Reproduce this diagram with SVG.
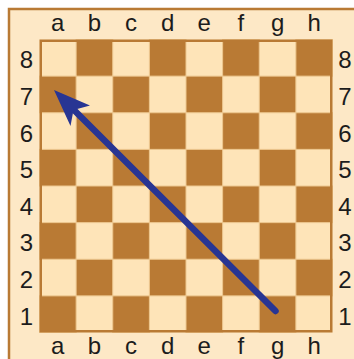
<svg xmlns="http://www.w3.org/2000/svg" width="354" height="359" viewBox="0 0 354 359">
<style>
.lbl{font-family:"Liberation Sans",Arial,sans-serif;font-size:24px;fill:#1c1c1c;text-anchor:middle}
.d{fill:#B97A34;stroke:#EDC890;stroke-width:1}
</style>
<rect x="0" y="0" width="354" height="359" fill="#ffffff"/>
<g id="frame">
<rect x="9" y="9" width="360" height="360" fill="#FDE8C6" stroke="#B97A34" stroke-width="2.5"/>
</g>
<g id="board">
<rect x="39.5" y="39.5" width="293" height="293" fill="#FEE4B8"/>
<g id="dark-squares">
<rect class="d" x="76.125" y="39.5" width="36.625" height="36.625"/>
<rect class="d" x="149.375" y="39.5" width="36.625" height="36.625"/>
<rect class="d" x="222.625" y="39.5" width="36.625" height="36.625"/>
<rect class="d" x="295.875" y="39.5" width="36.625" height="36.625"/>
<rect class="d" x="39.5" y="76.125" width="36.625" height="36.625"/>
<rect class="d" x="112.75" y="76.125" width="36.625" height="36.625"/>
<rect class="d" x="186" y="76.125" width="36.625" height="36.625"/>
<rect class="d" x="259.25" y="76.125" width="36.625" height="36.625"/>
<rect class="d" x="76.125" y="112.75" width="36.625" height="36.625"/>
<rect class="d" x="149.375" y="112.75" width="36.625" height="36.625"/>
<rect class="d" x="222.625" y="112.75" width="36.625" height="36.625"/>
<rect class="d" x="295.875" y="112.75" width="36.625" height="36.625"/>
<rect class="d" x="39.5" y="149.375" width="36.625" height="36.625"/>
<rect class="d" x="112.75" y="149.375" width="36.625" height="36.625"/>
<rect class="d" x="186" y="149.375" width="36.625" height="36.625"/>
<rect class="d" x="259.25" y="149.375" width="36.625" height="36.625"/>
<rect class="d" x="76.125" y="186" width="36.625" height="36.625"/>
<rect class="d" x="149.375" y="186" width="36.625" height="36.625"/>
<rect class="d" x="222.625" y="186" width="36.625" height="36.625"/>
<rect class="d" x="295.875" y="186" width="36.625" height="36.625"/>
<rect class="d" x="39.5" y="222.625" width="36.625" height="36.625"/>
<rect class="d" x="112.75" y="222.625" width="36.625" height="36.625"/>
<rect class="d" x="186" y="222.625" width="36.625" height="36.625"/>
<rect class="d" x="259.25" y="222.625" width="36.625" height="36.625"/>
<rect class="d" x="76.125" y="259.25" width="36.625" height="36.625"/>
<rect class="d" x="149.375" y="259.25" width="36.625" height="36.625"/>
<rect class="d" x="222.625" y="259.25" width="36.625" height="36.625"/>
<rect class="d" x="295.875" y="259.25" width="36.625" height="36.625"/>
<rect class="d" x="39.5" y="295.875" width="36.625" height="36.625"/>
<rect class="d" x="112.75" y="295.875" width="36.625" height="36.625"/>
<rect class="d" x="186" y="295.875" width="36.625" height="36.625"/>
<rect class="d" x="259.25" y="295.875" width="36.625" height="36.625"/>
</g>
<rect x="40.75" y="40.75" width="290.5" height="290.5" fill="none" stroke="#B97A34" stroke-width="2.5"/>
</g>
<g id="file-labels-top">
<text class="lbl" x="57.8" y="30.5">a</text>
<text class="lbl" x="94.4" y="30.5">b</text>
<text class="lbl" x="131.1" y="30.5">c</text>
<text class="lbl" x="167.7" y="30.5">d</text>
<text class="lbl" x="204.3" y="30.5">e</text>
<text class="lbl" x="240.9" y="30.5">f</text>
<text class="lbl" x="277.6" y="30.5">g</text>
<text class="lbl" x="314.2" y="30.5">h</text>
</g>
<g id="file-labels-bottom">
<text class="lbl" x="57.8" y="353.5">a</text>
<text class="lbl" x="94.4" y="353.5">b</text>
<text class="lbl" x="131.1" y="353.5">c</text>
<text class="lbl" x="167.7" y="353.5">d</text>
<text class="lbl" x="204.3" y="353.5">e</text>
<text class="lbl" x="240.9" y="353.5">f</text>
<text class="lbl" x="277.6" y="353.5">g</text>
<text class="lbl" x="314.2" y="353.5">h</text>
</g>
<g id="rank-labels-left">
<text class="lbl" x="26.5" y="68.3">8</text>
<text class="lbl" x="26.5" y="104.9">7</text>
<text class="lbl" x="26.5" y="141.6">6</text>
<text class="lbl" x="26.5" y="178.2">5</text>
<text class="lbl" x="26.5" y="214.8">4</text>
<text class="lbl" x="26.5" y="251.4">3</text>
<text class="lbl" x="26.5" y="288.1">2</text>
<text class="lbl" x="26.5" y="324.7">1</text>
</g>
<g id="rank-labels-right">
<text class="lbl" x="345" y="68.3">8</text>
<text class="lbl" x="345" y="104.9">7</text>
<text class="lbl" x="345" y="141.6">6</text>
<text class="lbl" x="345" y="178.2">5</text>
<text class="lbl" x="345" y="214.8">4</text>
<text class="lbl" x="345" y="251.4">3</text>
<text class="lbl" x="345" y="288.1">2</text>
<text class="lbl" x="345" y="324.7">1</text>
</g>
<g id="connectors">
<line x1="275.5" y1="311" x2="74" y2="110" stroke="#283593" stroke-width="6.5" stroke-linecap="round"/>
<polygon points="54,90 90,105.5 73.5,110 70.5,126" fill="#283593"/>
</g>
</svg>
